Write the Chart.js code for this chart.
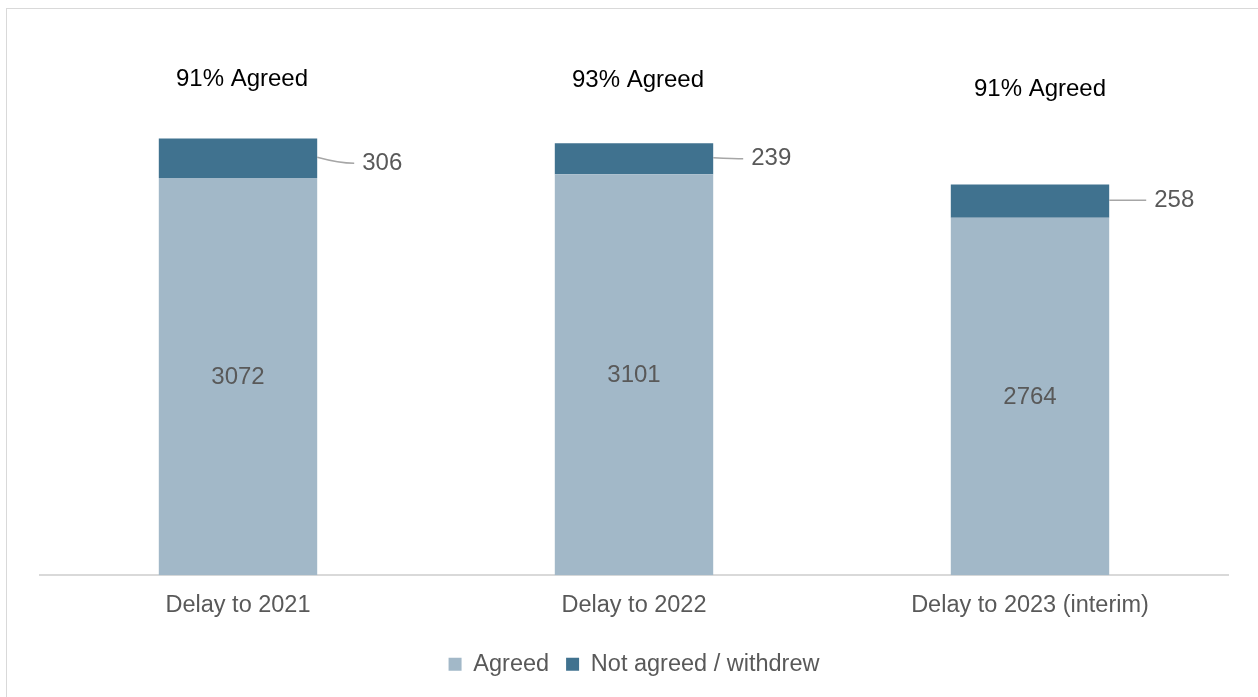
<!DOCTYPE html>
<html>
<head>
<meta charset="utf-8">
<script src="https://cdn.jsdelivr.net/npm/chart.js@4.4.1/dist/chart.umd.min.js"></script>
<style>
  html, body { margin: 0; padding: 0; background: #fff; overflow: hidden; }
  #frame {
    position: absolute; left: 6px; top: 8px; width: 1300px; height: 720px;
    border: 1.5px solid #d9d9d9; box-sizing: border-box;
  }
  #wrap { position: absolute; left: 0; top: 0; width: 1258px; height: 697px; }
</style>
</head>
<body>
<div id="frame"></div>
<div id="wrap"><canvas id="grafico" width="1258" height="697"></canvas></div>
<script>
const categorias = ['Delay to 2021', 'Delay to 2022', 'Delay to 2023 (interim)']
const acordados = [3072, 3101, 2764]
const noAcordados = [306, 239, 258]

const colores = {
    acordado: 'rgb(162, 184, 200)',
    noAcordado: 'rgb(64, 114, 143)',
    texto: '#595959',
    linea: '#a6a6a6'
}

const fuente = 'Arial, "Liberation Sans", sans-serif'

// porcentaje acordado por categoria, sale de los mismos datos
const porcentajes = acordados.map((v, i) => Math.round(v / (v + noAcordados[i]) * 100))

// etiquetas: valor dentro del segmento claro, valor con linea guia al lado del oscuro, y % arriba
const etiquetas = {
    id: 'etiquetas',
    afterDatasetsDraw(chart, args, opts) {
        const ctx = chart.ctx
        const barrasA = chart.getDatasetMeta(0).data
        const barrasB = chart.getDatasetMeta(1).data
        ctx.save()
        ctx.textBaseline = 'middle'

        barrasA.forEach((bar, i) => {
            ctx.font = '24px ' + fuente
            ctx.fillStyle = colores.texto
            ctx.textAlign = 'center'
            ctx.fillText(String(acordados[i]), bar.x, (bar.y + bar.base) / 2 + 1)
        })

        barrasB.forEach((bar, i) => {
            const xDer = bar.x + bar.width / 2
            const yMedio = (bar.y + bar.base) / 2
            const yTexto = yMedio + opts.desfaseY[i]
            const xTexto = xDer + opts.desfaseX[i]
            ctx.strokeStyle = colores.linea
            ctx.lineWidth = 1.5
            ctx.beginPath()
            ctx.moveTo(xDer, yMedio - 1)
            ctx.quadraticCurveTo(xDer + 22, yTexto, xTexto - 8, yTexto)
            ctx.stroke()
            ctx.font = '24px ' + fuente
            ctx.fillStyle = colores.texto
            ctx.textAlign = 'left'
            ctx.fillText(String(noAcordados[i]), xTexto, yTexto)

            ctx.font = '24px ' + fuente
            ctx.fillStyle = '#000'
            ctx.textAlign = 'center'
            ctx.fillText(porcentajes[i] + '% Agreed', bar.x + opts.corrX[i], bar.y - opts.alturaPct[i])
        })
        ctx.restore()
    }
}

new Chart(document.getElementById('grafico'), {
    type: 'bar',
    data: {
        labels: categorias,
        datasets: [{
            label: 'Agreed',
            data: acordados,
            backgroundColor: colores.acordado
        }, {
            label: 'Not agreed / withdrew',
            data: noAcordados,
            backgroundColor: colores.noAcordado
        }]
    },
    options: {
        responsive: false,
        animation: false,
        devicePixelRatio: 1,
        layout: {
            padding: { left: 40, right: 30, top: 58, bottom: 11 }
        },
        datasets: {
            bar: { barPercentage: 0.4, categoryPercentage: 1 }
        },
        scales: {
            x: {
                stacked: true,
                grid: { display: false, drawTicks: false },
                border: { display: true, color: '#d9d9d9', width: 2 },
                ticks: {
                    color: colores.texto,
                    padding: 16,
                    font: { family: fuente, size: 23.5 }
                }
            },
            y: {
                stacked: true,
                display: false,
                min: 0,
                max: 4000
            }
        },
        plugins: {
            legend: {
                position: 'bottom',
                labels: {
                    color: colores.texto,
                    boxWidth: 13,
                    boxHeight: 13,
                    padding: 17,
                    font: { family: fuente, size: 23.5 }
                }
            },
            tooltip: { enabled: false },
            etiquetas: {
                desfaseX: [45, 38, 45],
                desfaseY: [5, 0, -1],
                corrX: [4, 4, 10],
                alturaPct: [59, 63, 95]
            }
        }
    },
    plugins: [etiquetas]
})
</script>
</body>
</html>
